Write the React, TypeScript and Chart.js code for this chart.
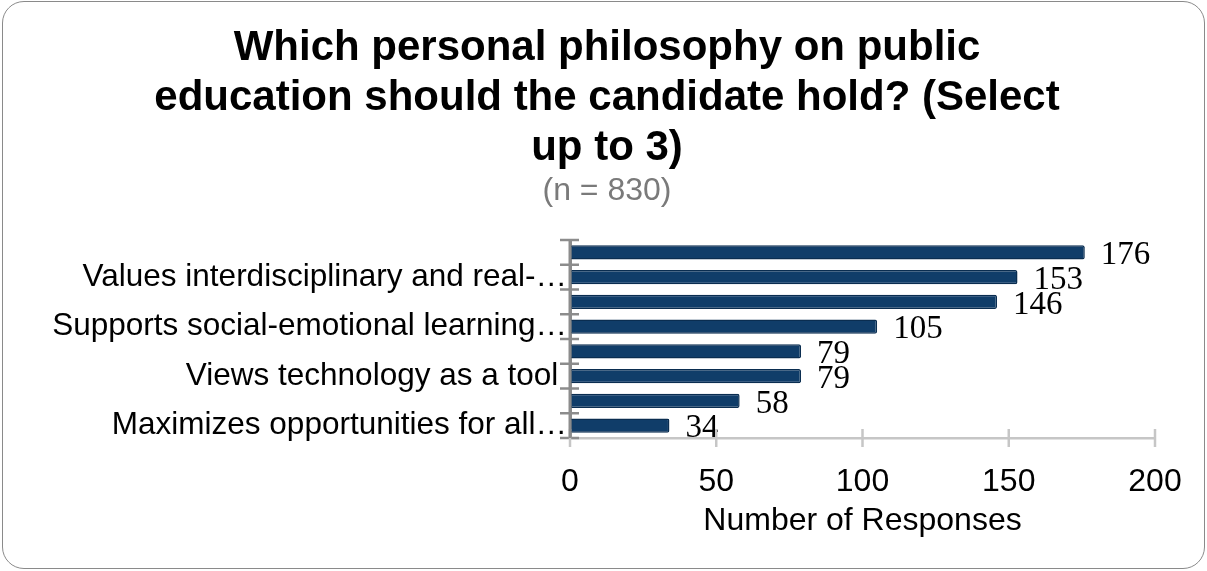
import React, { useEffect, useRef } from "react";
import { Chart, registerables } from "chart.js";

Chart.register(...registerables);

// ---- data (top to bottom) ----
const categories = [
  "",
  "Values interdisciplinary and real-…",
  "",
  "Supports social-emotional learning…",
  "",
  "Views technology as a tool ",
  "",
  "Maximizes opportunities for all…",
];
const responses = [176, 153, 146, 105, 79, 79, 58, 34];
const xTickValues = [0, 50, 100, 150, 200];
const titleLines = [
  "Which personal philosophy on public",
  "education should the candidate hold? (Select",
  "up to 3)",
];
const subtitleText = "(n = 830)";
const xAxisTitle = "Number of Responses";

const SANS = '"Liberation Sans", Arial, Helvetica, sans-serif';
const SERIF = '"Liberation Serif", "Times New Roman", serif';
const BAR_FILL = "#103d69";
const BAR_EDGE = "#0a2d50";

const crossTicks = {
  id: "crossTicks",
  afterDraw(chart: any) {
    const { ctx, chartArea } = chart;
    const xs = chart.scales.x;
    const ys = chart.scales.y;
    ctx.save();
    // y axis tick marks at category boundaries, crossing the axis
    ctx.strokeStyle = "#8c8c8c";
    ctx.lineWidth = 2.5;
    const n = categories.length;
    const step = (ys.bottom - ys.top) / n;
    for (let i = 0; i <= n; i++) {
      const py = ys.top + i * step;
      ctx.beginPath();
      ctx.moveTo(chartArea.left - 10, py);
      ctx.lineTo(chartArea.left + 9, py);
      ctx.stroke();
    }
    // x axis tick marks crossing the axis line
    ctx.strokeStyle = "#c6c6c6";
    ctx.lineWidth = 2.5;
    for (const v of xTickValues) {
      const px = xs.getPixelForValue(v);
      ctx.beginPath();
      ctx.moveTo(px, chartArea.bottom - 9);
      ctx.lineTo(px, chartArea.bottom + 9);
      ctx.stroke();
    }
    // redraw y axis line on top
    ctx.strokeStyle = "#8c8c8c";
    ctx.lineWidth = 3;
    ctx.beginPath();
    ctx.moveTo(chartArea.left, ys.top);
    ctx.lineTo(chartArea.left, ys.bottom);
    ctx.stroke();
    ctx.restore();
  },
};

const valueLabels = {
  id: "valueLabels",
  afterDatasetsDraw(chart: any) {
    const { ctx } = chart;
    const meta = chart.getDatasetMeta(0);
    ctx.save();
    ctx.font = `33px ${SERIF}`;
    ctx.fillStyle = "#000";
    ctx.textAlign = "left";
    ctx.textBaseline = "middle";
    meta.data.forEach((bar: any, i: number) => {
      ctx.fillText(String(responses[i]), bar.x + 16, bar.y + 3);
    });
    ctx.restore();
  },
};

export default function App() {
  const ref = useRef<HTMLCanvasElement | null>(null);

  useEffect(() => {
    if (!ref.current) return;
    const chart = new Chart(ref.current, {
      type: "bar",
      data: {
        labels: categories,
        datasets: [
          {
            data: responses,
            yAxisID: "y",
            backgroundColor: BAR_FILL,
            borderColor: BAR_EDGE,
            borderWidth: 1.5,
            borderRadius: 2,
            borderSkipped: false,
            barPercentage: 0.57,
            categoryPercentage: 1,
          },
        ],
      },
      options: {
        indexAxis: "y",
        responsive: false,
        animation: false,
        layout: { padding: { left: 7, right: 0, top: 0, bottom: 0 } },
        plugins: {
          legend: { display: false },
          tooltip: { enabled: false },
          title: {
            display: true,
            text: titleLines,
            color: "#000",
            font: { family: SANS, size: 42, weight: "bold", lineHeight: 50 / 42 },
            padding: { top: 23, bottom: 0 },
          },
          subtitle: {
            display: true,
            text: subtitleText,
            color: "#7a7a7a",
            font: { family: SANS, size: 32, lineHeight: 36 / 32 },
            padding: { top: 0, bottom: 31 },
          },
        },
        scales: {
          x: {
            type: "linear",
            min: 0,
            max: 200,
            afterBuildTicks: (scale: any) => {
              scale.ticks = xTickValues.map((v) => ({ value: v }));
            },
            afterFit: (scale: any) => {
              scale.height = 133;
            },
            grid: { display: false, drawTicks: false },
            border: { display: true, color: "#c6c6c6", width: 2.5 },
            ticks: {
              color: "#000",
              padding: 25,
              font: { family: SANS, size: 32 },
            },
            title: {
              display: true,
              text: xAxisTitle,
              color: "#000",
              font: { family: SANS, size: 32, lineHeight: 1.2 },
              padding: { top: 0, bottom: 31 },
            },
          },
          y: {
            type: "category",
            position: "left",
            offset: true,
            afterFit: (scale: any) => {
              scale.width = 563;
            },
            grid: { display: false, drawTicks: false },
            border: { display: true, color: "#8c8c8c", width: 3 },
            ticks: {
              color: "#000",
              padding: 3,
              autoSkip: false,
              font: { family: SANS, size: 31.5 },
            },
          },
          yRightSpace: {
            type: "category",
            position: "right",
            offset: true,
            afterFit: (scale: any) => {
              scale.width = 52;
            },
            grid: { display: false, drawTicks: false },
            border: { display: false },
            ticks: { display: false },
          },
        },
      },
      plugins: [crossTicks, valueLabels],
    } as any);
    return () => chart.destroy();
  }, []);

  return (
    <div
      style={{
        position: "fixed",
        left: 0,
        top: 0,
        width: 1207,
        height: 571,
        background: "#fff",
      }}
    >
      <canvas ref={ref} width={1207} height={571} style={{ position: "absolute", left: 0, top: 0 }} />
      <div
        style={{
          position: "absolute",
          left: 2,
          top: 1,
          width: 1203,
          height: 568,
          boxSizing: "border-box",
          border: "1.5px solid #8a8a8a",
          borderRadius: 22,
          pointerEvents: "none",
        }}
      />
    </div>
  );
}
